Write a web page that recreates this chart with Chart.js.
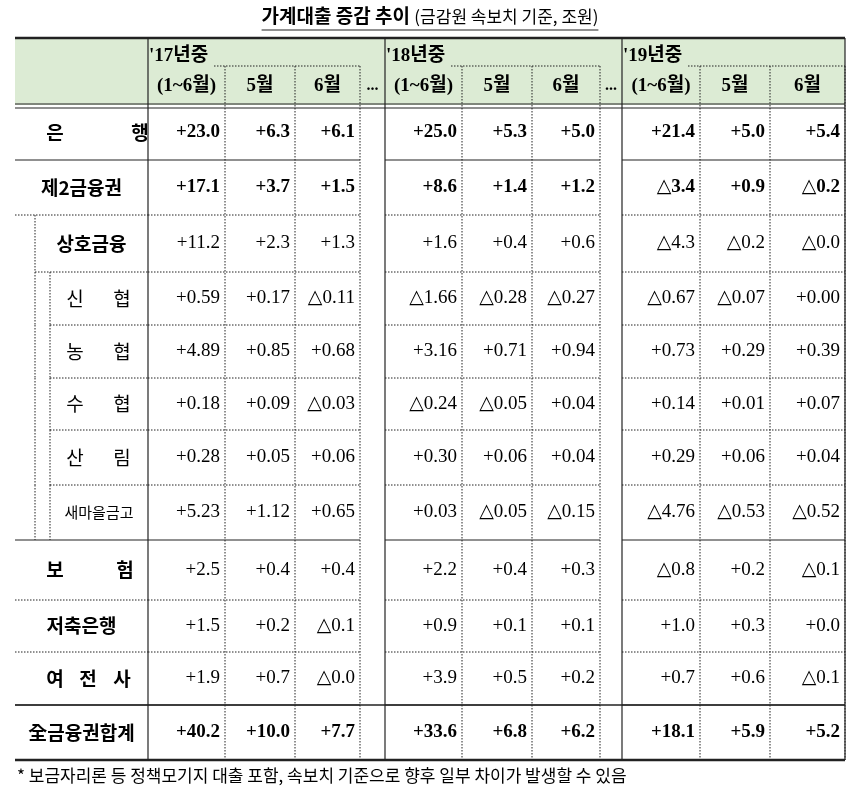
<!DOCTYPE html>
<html><head><meta charset="utf-8">
<script src="https://cdn.jsdelivr.net/npm/chart.js@4"></script>
<style>body{margin:0;background:#fff}#wrap{width:861px;height:793px}</style>
</head><body><div id="wrap"><canvas id="canvas_table"></canvas></div>
<script>
// row labels and values (조원)
var rowLabels = ["은|행", "제2금융권", "상호금융", "신|협", "농|협", "수|협", "산|림", "새마을금고", "보|험", "저축은행", "여|전|사", "全금융권합계"];
var yearLabels = ["'17년중", "'18년중", "'19년중"];
var subLabels = ["(1~6월)", "5월", "6월"];
var vals17 = [
	["+23.0", "+6.3", "+6.1"], ["+17.1", "+3.7", "+1.5"], ["+11.2", "+2.3", "+1.3"],
	["+0.59", "+0.17", "△0.11"], ["+4.89", "+0.85", "+0.68"], ["+0.18", "+0.09", "△0.03"],
	["+0.28", "+0.05", "+0.06"], ["+5.23", "+1.12", "+0.65"], ["+2.5", "+0.4", "+0.4"],
	["+1.5", "+0.2", "△0.1"], ["+1.9", "+0.7", "△0.0"], ["+40.2", "+10.0", "+7.7"]];
var vals18 = [
	["+25.0", "+5.3", "+5.0"], ["+8.6", "+1.4", "+1.2"], ["+1.6", "+0.4", "+0.6"],
	["△1.66", "△0.28", "△0.27"], ["+3.16", "+0.71", "+0.94"], ["△0.24", "△0.05", "+0.04"],
	["+0.30", "+0.06", "+0.04"], ["+0.03", "△0.05", "△0.15"], ["+2.2", "+0.4", "+0.3"],
	["+0.9", "+0.1", "+0.1"], ["+3.9", "+0.5", "+0.2"], ["+33.6", "+6.8", "+6.2"]];
var vals19 = [
	["+21.4", "+5.0", "+5.4"], ["△3.4", "+0.9", "△0.2"], ["△4.3", "△0.2", "△0.0"],
	["△0.67", "△0.07", "+0.00"], ["+0.73", "+0.29", "+0.39"], ["+0.14", "+0.01", "+0.07"],
	["+0.29", "+0.06", "+0.04"], ["△4.76", "△0.53", "△0.52"], ["△0.8", "+0.2", "△0.1"],
	["+1.0", "+0.3", "+0.0"], ["+0.7", "+0.6", "△0.1"], ["+18.1", "+5.9", "+5.2"]];
var boldRows = [0, 1, 11];
var indent = [0, 0, 1, 2, 2, 2, 2, 2, 0, 0, 0, 0];

// layout (pixels)
var colEdges = [148, 225, 295, 360, 385, 462, 532, 600, 622, 700, 770, 845];
var rowEdges = [105, 160, 215, 272, 325, 378, 430, 485, 540, 600, 652, 705, 760];
var groupStart = [0, 4, 8];
var solidAfter = [0, 7, 10];
var spread = [[55, 140], [0], [0], [75, 122], [75, 122], [75, 122], [75, 122], [0], [55, 125], [0], [55, 88, 122], [0]];

var points = [];
[vals17, vals18, vals19].forEach(function(g, gi) {
	g.forEach(function(r, ri) {
		r.forEach(function(v, ci) {
			var c = groupStart[gi] + ci;
			points.push({ x: colEdges[c + 1], y: (rowEdges[ri] + rowEdges[ri + 1]) / 2, t: v, b: boldRows.indexOf(ri) >= 0 });
		});
	});
});

function line(ctx, x1, y1, x2, y2, w, dash) {
	ctx.save(); ctx.lineWidth = w; ctx.strokeStyle = "#222";
	ctx.setLineDash(dash ? [1.5, 1.5] : []);
	ctx.beginPath(); ctx.moveTo(x1, y1); ctx.lineTo(x2, y2); ctx.stroke(); ctx.restore();
}

var tablePlugin = {
	id: "tablePlugin",
	beforeDatasetsDraw: function(chart) {
		var ctx = chart.ctx, xs = chart.scales.x, ys = chart.scales.y;
		var X = function(v) { return xs.getPixelForValue(v); };
		var Y = function(v) { return ys.getPixelForValue(v); };
		ctx.fillStyle = "#fff"; ctx.fillRect(0, 0, 861, 793);
		// title
		ctx.fillStyle = "#000"; ctx.textBaseline = "middle";
		ctx.font = "bold 19px 'Noto Sans CJK KR'";
		var t1 = "가계대출 증감 추이 ", t2 = "(금감원 속보치 기준, 조원)";
		var w1 = ctx.measureText(t1).width;
		ctx.font = "17px 'Noto Sans CJK KR'";
		var w2 = ctx.measureText(t2).width, sx = 430 - (w1 + w2) / 2;
		ctx.font = "bold 19px 'Noto Sans CJK KR'"; ctx.textAlign = "left";
		ctx.fillText(t1, X(sx), Y(16));
		ctx.font = "17px 'Noto Sans CJK KR'"; ctx.fillText(t2, X(sx + w1), Y(17));
		line(ctx, X(sx), Y(30), X(sx + w1 + w2), Y(30), 1.2);
		// header
		ctx.fillStyle = "#dcebd4"; ctx.fillRect(X(15), Y(38), X(845) - X(15), Y(105) - Y(38));
		line(ctx, X(15), Y(38), X(845), Y(38), 2.5);
		line(ctx, X(15), Y(104), X(845), Y(104), 1.2);
		line(ctx, X(15), Y(108), X(845), Y(108), 1.2);
		ctx.fillStyle = "#000";
		groupStart.forEach(function(c, gi) {
			ctx.textAlign = "left"; ctx.font = "bold 19px 'Liberation Serif', 'Noto Sans CJK KR'";
			ctx.fillText(yearLabels[gi], X(colEdges[c] + 1), Y(56));
			line(ctx, X(colEdges[c] + 66), Y(66), X(colEdges[c + 3]), Y(66), 1, true);
			ctx.textAlign = "center";
			subLabels.forEach(function(s, k) {
				ctx.font = "bold 19px 'Liberation Serif', 'Noto Sans CJK KR'";
				ctx.fillText(s, X((colEdges[c + k] + colEdges[c + k + 1]) / 2), Y(86));
				if (k) line(ctx, X(colEdges[c + k]), Y(66), X(colEdges[c + k]), Y(760), 1, true);
			});
			line(ctx, X(colEdges[c]), Y(38), X(colEdges[c]), Y(760), 1.2);
			line(ctx, X(colEdges[c + 3]), Y(66), X(colEdges[c + 3]), Y(760), 1, true);
			if (gi < 2) { ctx.font = "bold 16px 'Liberation Serif'"; ctx.fillText("...", X((colEdges[c + 3] + colEdges[c + 4]) / 2), Y(86)); }
		});
		// rows
		rowLabels.forEach(function(lab, ri) {
			var y1 = rowEdges[ri], y2 = rowEdges[ri + 1];
			var lx = [15, 35, 50][indent[ri]];
			var solid = solidAfter.indexOf(ri) >= 0;
			groupStart.forEach(function(c) {
				line(ctx, X(colEdges[c]), Y(y2), X(colEdges[c + 3]), Y(y2), solid ? 1.2 : 1, !solid);
			});
			var nlx = ri + 1 < rowLabels.length ? [15, 35, 50][indent[ri + 1]] : 15;
			line(ctx, X(Math.min(lx, nlx)), Y(y2), X(148), Y(y2), solid ? 1.2 : 1, !solid);
			if (indent[ri]) line(ctx, X(lx), Y(y1), X(lx), Y(y2), 1, true);
			if (indent[ri] == 2) line(ctx, X(35), Y(y1), X(35), Y(y2), 1, true);
			ctx.fillStyle = "#000"; ctx.textAlign = "center";
			var sz = ri == 7 ? 15 : 19;
			ctx.font = (indent[ri] < 2 ? "bold " : "") + sz + "px 'Noto Sans CJK KR'";
			var parts = lab.split("|"), cy = Y((y1 + y2) / 2);
			if (parts.length > 1) parts.forEach(function(p, k) { ctx.fillText(p, X(spread[ri][k]), cy); });
			else ctx.fillText(lab, X((lx + 148) / 2), cy);
		});
		line(ctx, X(15), Y(705), X(845), Y(705), 1.5);
		line(ctx, X(15), Y(760), X(845), Y(760), 2.5);
		line(ctx, X(845), Y(38), X(845), Y(760), 1.2);
		ctx.textAlign = "left"; ctx.font = "17px 'Noto Sans CJK KR'";
		ctx.fillText("* 보금자리론 등 정책모기지 대출 포함, 속보치 기준으로 향후 일부 차이가 발생할 수 있음", X(17), Y(776));
	},
	afterDatasetsDraw: function(chart) {
		var ctx = chart.ctx;
		chart.getDatasetMeta(0).data.forEach(function(el, i) {
			var p = points[i];
			ctx.fillStyle = "#000"; ctx.textAlign = "right"; ctx.textBaseline = "middle";
			ctx.font = (p.b ? "bold " : "") + "19px 'Liberation Serif', 'DejaVu Serif'";
			ctx.fillText(p.t, el.x - 5, el.y);
		});
	}
};

new Chart(document.getElementById("canvas_table"), {
	type: "scatter",
	data: { datasets: [{ data: points, pointRadius: 0 }] },
	options: {
		responsive: true, maintainAspectRatio: false, animation: false,
		layout: { padding: 0 },
		plugins: { legend: { display: false }, tooltip: { enabled: false } },
		scales: {
			x: { type: "linear", min: 0, max: 861, display: false },
			y: { type: "linear", min: 0, max: 793, reverse: true, display: false }
		}
	},
	plugins: [tablePlugin]
});
</script></body></html>
